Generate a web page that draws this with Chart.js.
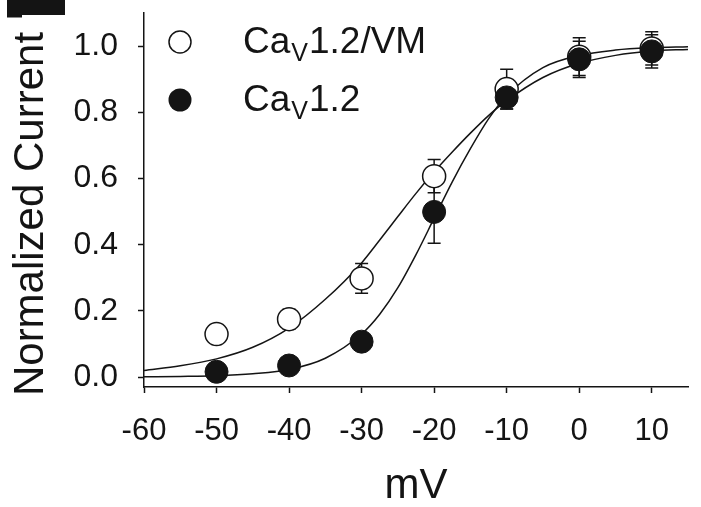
<!DOCTYPE html>
<html>
<head>
<meta charset="utf-8">
<script src="https://cdn.jsdelivr.net/npm/chart.js@4.4.1/dist/chart.umd.min.js"></script>
<style>
  html, body { margin: 0; padding: 0; background: #fff; }
  #wrap { width: 701px; height: 507px; position: relative; }
</style>
</head>
<body>
<div id="wrap"><canvas id="chart"></canvas></div>
<script>
const voltages = [-50, -40, -30, -20, -10, 0, 10];
const vmMean = [0.13, 0.175, 0.298, 0.607, 0.87, 0.968, 0.993];
const vmErr = [0, 0.03, 0.045, 0.05, 0.06, 0.057, 0.05];
const wtMean = [0.016, 0.035, 0.107, 0.499, 0.845, 0.96, 0.984];
const wtErr = [0, 0, 0, 0.095, 0.035, 0.055, 0.05];

// fitted curves
const fitV = [-60, -55, -50, -45, -40, -35, -30, -27.5, -25, -22.5, -20, -17.5, -15, -12.5, -10, -5, 0, 5, 10, 15];
const vmFit = [0.02, 0.034, 0.055, 0.09, 0.148, 0.235, 0.345, 0.414, 0.485, 0.555, 0.62, 0.68, 0.737, 0.79, 0.835, 0.905, 0.948, 0.972, 0.985, 0.99];
const wtFit = [0.001, 0.002, 0.004, 0.01, 0.023, 0.057, 0.13, 0.19, 0.27, 0.37, 0.48, 0.59, 0.69, 0.78, 0.85, 0.935, 0.972, 0.988, 0.995, 0.998];

const xTicks = [-60, -50, -40, -30, -20, -10, 0, 10];
const yTicks = [0, 0.2, 0.4, 0.6, 0.8, 1.0];
const seriesNames = ['1.2/VM', '1.2'];

const ink = '#141414';
const font = '"Liberation Sans", Arial, sans-serif';

function pts(xs, ys) {
  return xs.map(function (x, i) { return { x: x, y: ys[i] }; });
}

const errorBars = {
  id: 'errorBars',
  beforeDatasetsDraw(chart) {
    const ctx = chart.ctx;
    const xs = chart.scales.x, ys = chart.scales.y;
    ctx.save();
    ctx.strokeStyle = ink;
    ctx.lineWidth = 1.5;
    [[vmMean, vmErr], [wtMean, wtErr]].forEach(function (s) {
      voltages.forEach(function (v, i) {
        if (!s[1][i]) return;
        const px = xs.getPixelForValue(v);
        const top = ys.getPixelForValue(s[0][i] + s[1][i]);
        const bot = ys.getPixelForValue(s[0][i] - s[1][i]);
        ctx.beginPath();
        ctx.moveTo(px, top); ctx.lineTo(px, bot);
        ctx.moveTo(px - 6.5, top); ctx.lineTo(px + 6.5, top);
        ctx.moveTo(px - 6.5, bot); ctx.lineTo(px + 6.5, bot);
        ctx.stroke();
      });
    });
    ctx.restore();
  }
};

function caLabel(ctx, x, y, rest) {
  ctx.font = '37px ' + font;
  ctx.fillText('Ca', x, y);
  let w = ctx.measureText('Ca').width;
  ctx.font = '25px ' + font;
  ctx.fillText('V', x + w + 1, y + 8);
  w += ctx.measureText('V').width + 2;
  ctx.font = '37px ' + font;
  ctx.fillText(rest, x + w, y);
}

const decorations = {
  id: 'decorations',
  afterDraw(chart) {
    const ctx = chart.ctx;
    ctx.save();
    // panel letter remnant in the corner
    ctx.fillStyle = ink;
    ctx.fillRect(7, 0, 58, 15);
    ctx.fillRect(7, 0, 15, 17.5);

    // legend
    ctx.lineWidth = 1.5;
    ctx.strokeStyle = ink;
    ctx.fillStyle = '#fff';
    ctx.beginPath(); ctx.arc(180, 42, 11, 0, Math.PI * 2); ctx.fill(); ctx.stroke();
    ctx.fillStyle = ink;
    ctx.beginPath(); ctx.arc(180, 100, 11.5, 0, Math.PI * 2); ctx.fill();
    ctx.textBaseline = 'alphabetic';
    ctx.textAlign = 'left';
    caLabel(ctx, 243, 53, seriesNames[0]);
    caLabel(ctx, 243, 111, seriesNames[1]);

    // y axis title
    ctx.font = '42px ' + font;
    ctx.textAlign = 'center';
    ctx.translate(43, 214);
    ctx.rotate(-Math.PI / 2);
    ctx.fillText('Normalized Current', 0, 0);
    ctx.restore();
  }
};

const chart = new Chart(document.getElementById('chart'), {
  type: 'scatter',
  data: {
    datasets: [
      {
        label: 'CaV' + seriesNames[1],
        data: pts(voltages, wtMean),
        order: 0,
        pointRadius: 11.5,
        pointBackgroundColor: ink,
        pointBorderColor: ink,
        pointBorderWidth: 1
      },
      {
        label: 'CaV' + seriesNames[0],
        data: pts(voltages, vmMean),
        order: 1,
        pointRadius: 11.5,
        pointBackgroundColor: '#fff',
        pointBorderColor: ink,
        pointBorderWidth: 1.5
      },
      {
        label: 'fit CaV1.2',
        data: pts(fitV, wtFit),
        order: 2,
        showLine: true,
        cubicInterpolationMode: 'monotone',
        borderColor: ink,
        borderWidth: 1.5,
        pointRadius: 0
      },
      {
        label: 'fit CaV1.2/VM',
        data: pts(fitV, vmFit),
        order: 3,
        showLine: true,
        cubicInterpolationMode: 'monotone',
        borderColor: ink,
        borderWidth: 1.5,
        pointRadius: 0
      }
    ]
  },
  options: {
    responsive: true,
    maintainAspectRatio: false,
    animation: false,
    layout: { padding: { left: 0, right: 8, top: 3, bottom: 0 } },
    plugins: {
      legend: { display: false },
      tooltip: { enabled: false }
    },
    scales: {
      x: {
        type: 'linear',
        min: -60,
        max: 15,
        afterFit: function (scale) {
          scale.height = 120;
          scale.paddingLeft = 0;
          scale.paddingRight = 0;
        },
        afterBuildTicks: function (scale) {
          scale.ticks = xTicks.map(function (v) { return { value: v }; });
        },
        grid: { drawOnChartArea: false, drawTicks: true, tickLength: 6, tickColor: ink, tickWidth: 1.5 },
        border: { display: true, color: ink, width: 1.5 },
        ticks: {
          color: ink,
          padding: 20,
          maxRotation: 0,
          font: { family: font, size: 31 },
          callback: function (v) { return String(v); }
        },
        title: {
          display: true,
          text: 'mV',
          color: ink,
          font: { family: font, size: 42, lineHeight: 1 },
          padding: { top: 0, bottom: 0 }
        }
      },
      y: {
        type: 'linear',
        min: -0.03,
        max: 1.1,
        afterFit: function (scale) {
          scale.width = 144;
          scale.paddingTop = 0;
          scale.paddingBottom = 0;
        },
        afterBuildTicks: function (scale) {
          scale.ticks = yTicks.map(function (v) { return { value: v }; });
        },
        grid: { drawOnChartArea: false, drawTicks: true, tickLength: 6, tickColor: ink, tickWidth: 1.5 },
        border: { display: true, color: ink, width: 1.5 },
        ticks: {
          color: ink,
          padding: 20,
          font: { family: font, size: 32 },
          callback: function (v) { return Number(v).toFixed(1); }
        }
      }
    }
  },
  plugins: [errorBars, decorations]
});
</script>
</body>
</html>
